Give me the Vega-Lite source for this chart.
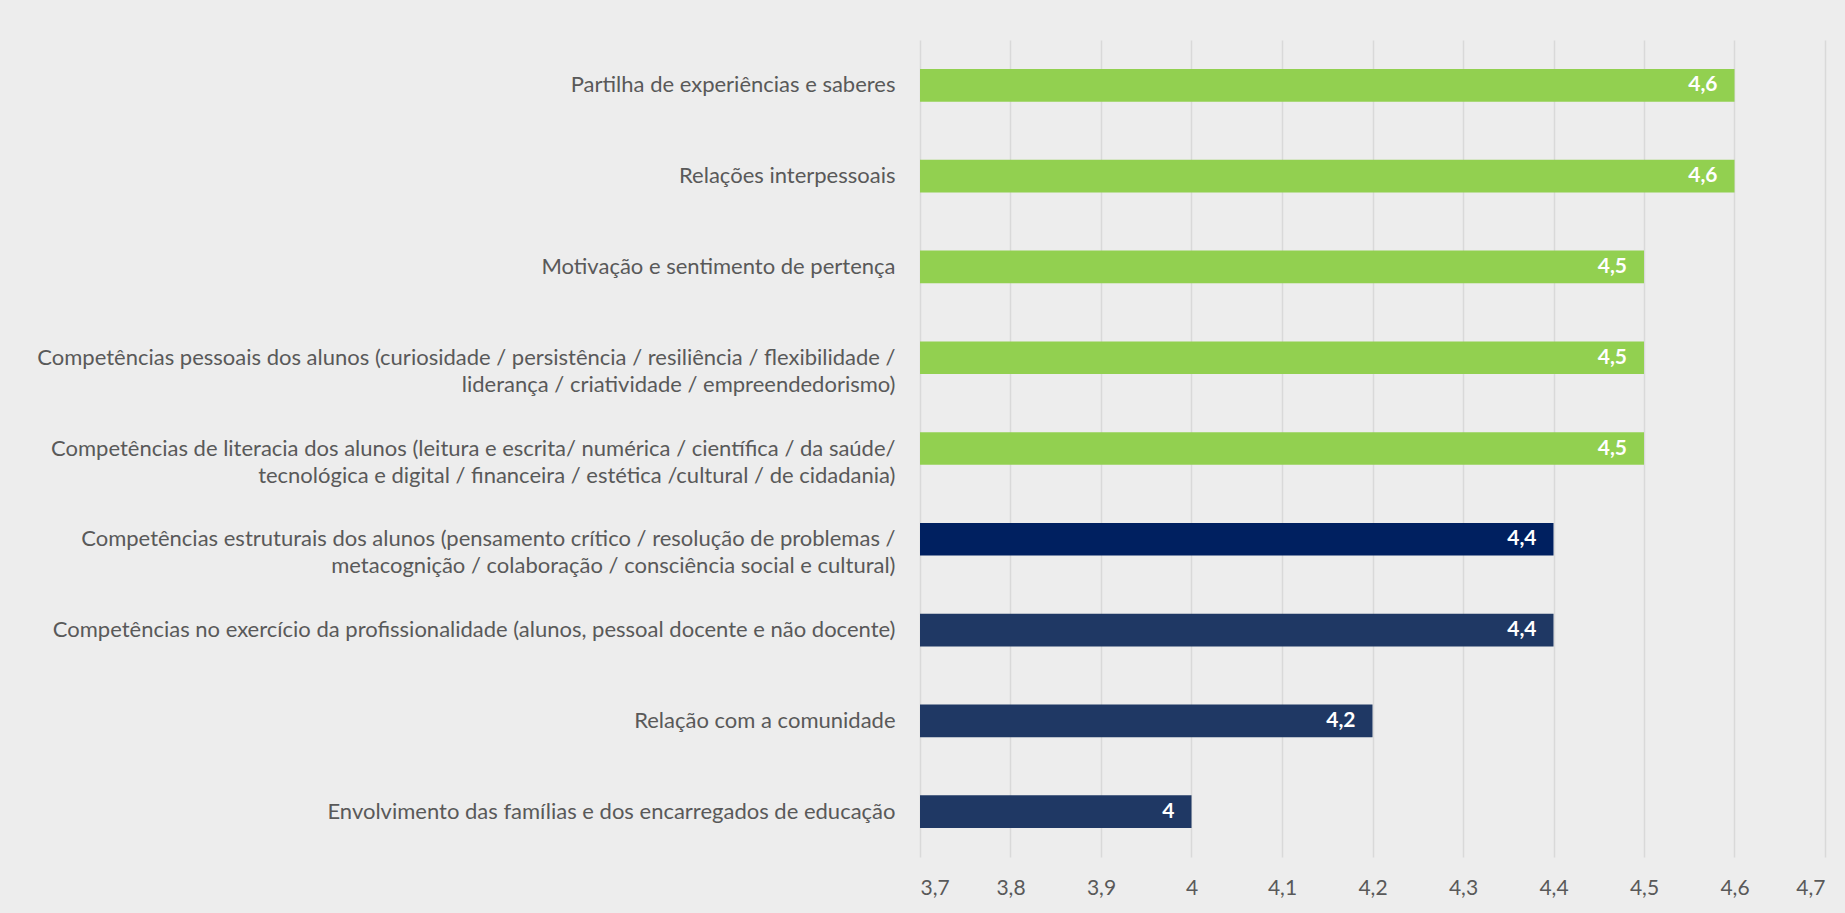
{
  "$schema": "https://vega.github.io/schema/vega-lite/v6.json",
  "autosize": {"type": "none"},
  "width": 905,
  "height": 817,
  "padding": {"left": 920, "top": 40, "right": 20, "bottom": 56},
  "background": "#EDEDED",
  "config": {
    "view": {"stroke": null},
    "locale": {"number": {"decimal": ",", "thousands": ".", "grouping": [3], "currency": ["", " €"]}},
    "font": "Lato"
  },
  "data": {
    "values": [
      {"dimensao": "Partilha de experiências e saberes", "valor": 4.6},
      {"dimensao": "Relações interpessoais", "valor": 4.6},
      {"dimensao": "Motivação e sentimento de pertença", "valor": 4.5},
      {"dimensao": "Competências pessoais dos alunos (curiosidade / persistência / resiliência / flexibilidade /\nliderança / criatividade / empreendedorismo)", "valor": 4.5},
      {"dimensao": "Competências de literacia dos alunos (leitura e escrita/ numérica / científica / da saúde/\ntecnológica e digital / financeira / estética /cultural / de cidadania)", "valor": 4.5},
      {"dimensao": "Competências estruturais dos alunos (pensamento crítico / resolução de problemas /\nmetacognição / colaboração / consciência social e cultural)", "valor": 4.4},
      {"dimensao": "Competências no exercício da profissionalidade (alunos, pessoal docente e não docente)", "valor": 4.4},
      {"dimensao": "Relação com a comunidade", "valor": 4.2},
      {"dimensao": "Envolvimento das famílias e dos encarregados de educação", "valor": 4}
    ]
  },
  "encoding": {
    "y": {
      "field": "dimensao",
      "type": "nominal",
      "sort": null,
      "title": null,
      "scale": {"paddingInner": 0.64, "paddingOuter": 0.32},
      "axis": {
        "domain": false,
        "ticks": false,
        "grid": false,
        "labelPadding": 25,
        "labelFont": "Lato",
        "labelFontSize": 22,
        "labelColor": "#595959",
        "labelLimit": 1000,
        "labelLineHeight": 27,
        "labelAlign": "right",
        "labelExpr": "split(datum.label, '\\n')",
        "encode": {
          "labels": {
            "update": {
              "align": {"signal": "indexof(datum.value, '\\n') >= 0 ? 'center' : 'right'"},
              "dy": {"signal": "indexof(datum.value, '\\n') >= 0 ? -13 : 0"},
              "dx": {"signal": "indexof(datum.value, 'pessoais') >= 0 ? -429 : indexof(datum.value, 'literacia') >= 0 ? -421 : indexof(datum.value, 'estruturais') >= 0 ? -407 : 0"}
            }
          }
        }
      }
    },
    "x": {
      "field": "valor",
      "type": "quantitative",
      "title": null,
      "scale": {"domain": [3.7, 4.7], "zero": false, "nice": false},
      "axis": {
        "values": [3.7, 3.8, 3.9, 4.0, 4.1, 4.2, 4.3, 4.4, 4.5, 4.6, 4.7],
        "format": ".2~g",
        "domain": false,
        "ticks": false,
        "grid": true,
        "gridColor": "#D9D9D9",
        "gridWidth": 1.5,
        "labelPadding": 20,
        "labelFont": "Lato",
        "labelFontSize": 21,
        "labelColor": "#595959"
      }
    }
  },
  "layer": [
    {
      "mark": {"type": "bar"},
      "encoding": {
        "x2": {"datum": 3.7},
        "color": {
          "field": "dimensao",
          "type": "nominal",
          "legend": null,
          "scale": {
            "domain": [
              "Partilha de experiências e saberes",
              "Relações interpessoais",
              "Motivação e sentimento de pertença",
              "Competências pessoais dos alunos (curiosidade / persistência / resiliência / flexibilidade /\nliderança / criatividade / empreendedorismo)",
              "Competências de literacia dos alunos (leitura e escrita/ numérica / científica / da saúde/\ntecnológica e digital / financeira / estética /cultural / de cidadania)",
              "Competências estruturais dos alunos (pensamento crítico / resolução de problemas /\nmetacognição / colaboração / consciência social e cultural)",
              "Competências no exercício da profissionalidade (alunos, pessoal docente e não docente)",
              "Relação com a comunidade",
              "Envolvimento das famílias e dos encarregados de educação"
            ],
            "range": ["#92D050", "#92D050", "#92D050", "#92D050", "#92D050", "#002060", "#1F3864", "#1F3864", "#1F3864"]
          }
        }
      }
    },
    {
      "mark": {"type": "text", "align": "right", "baseline": "middle", "dx": -17, "fontSize": 21, "fontWeight": "bold", "color": "white", "font": "Lato"},
      "encoding": {
        "text": {"field": "valor", "type": "quantitative", "format": ".2~g"}
      }
    }
  ]
}
